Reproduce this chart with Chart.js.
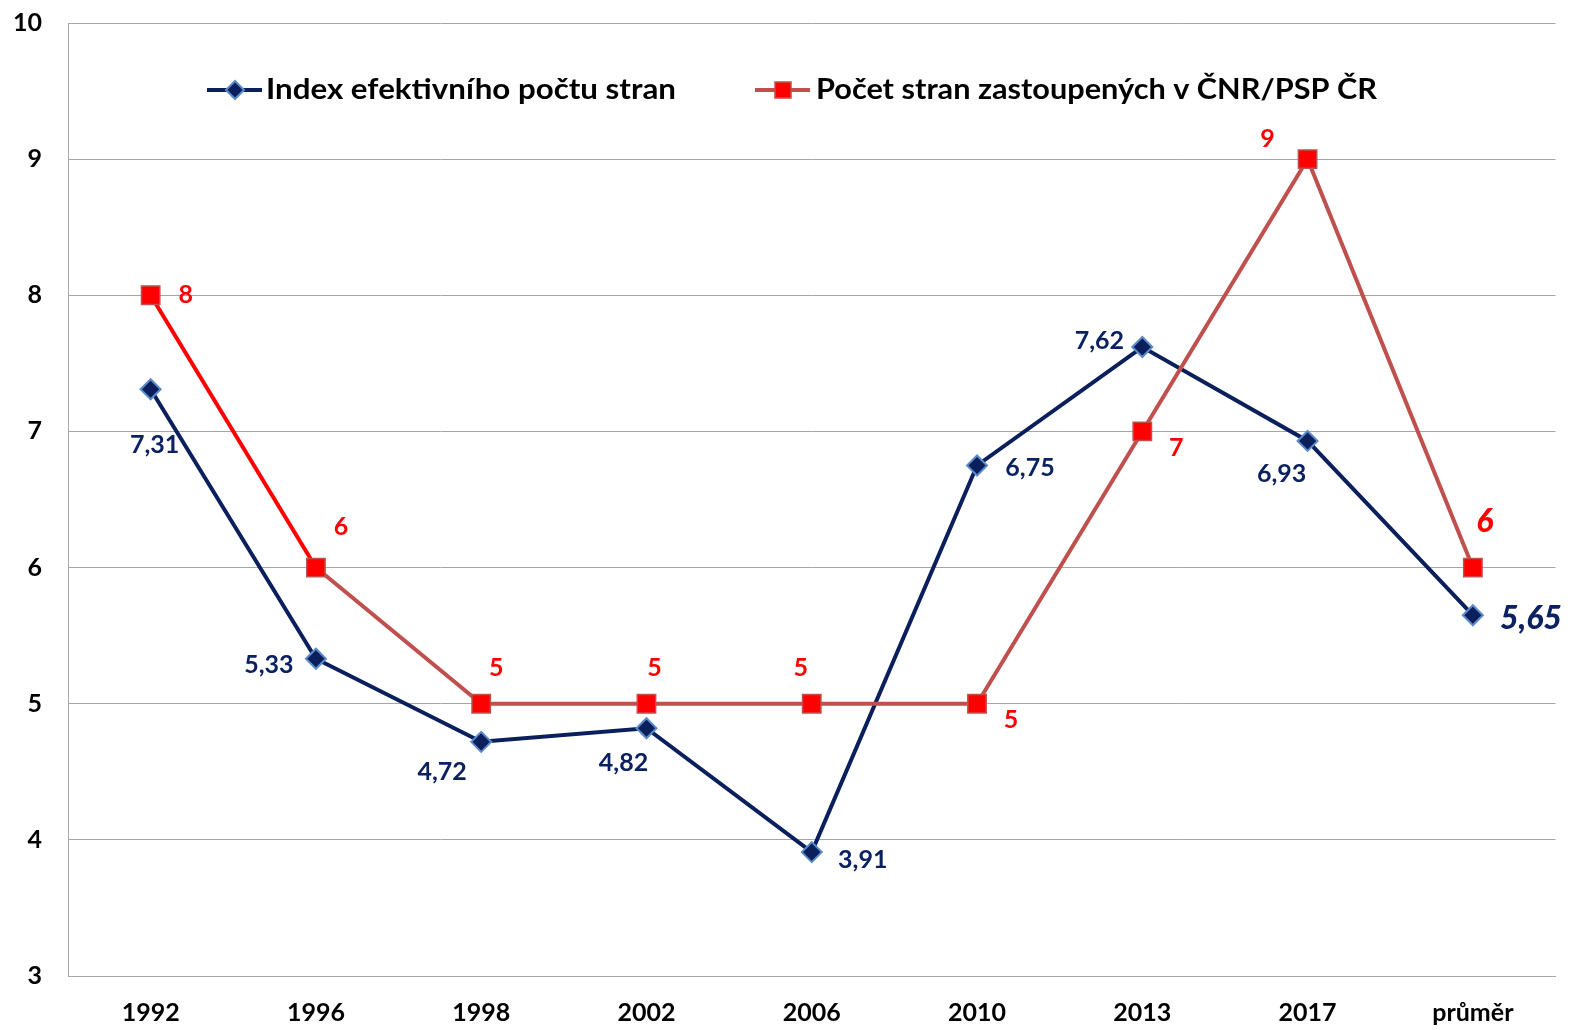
<!DOCTYPE html>
<html>
<head>
<meta charset="utf-8">
<script src="https://cdn.jsdelivr.net/npm/chart.js@4.4.0/dist/chart.umd.min.js"></script>
<style>
  html, body { margin: 0; padding: 0; background: #fff; }
  #wrap { width: 1570px; height: 1030px; }
</style>
</head>
<body>
<div id="wrap"><canvas id="c" width="1570" height="1030"></canvas></div>
<script>
const categories = ['1992', '1996', '1998', '2002', '2006', '2010', '2013', '2017', 'průměr'];
const effIndex = [7.31, 5.33, 4.72, 4.82, 3.91, 6.75, 7.62, 6.93, 5.65];
const partyCount = [8, 6, 5, 5, 5, 5, 7, 9, 6];
const seriesNames = ['Index efektivního počtu stran', 'Počet stran zastoupených v ČNR/PSP ČR'];
const yMin = 3, yMax = 10, yStep = 1;

const FONT = 'Lato, "Liberation Sans", sans-serif';
const NAVY = '#0B2161';
const NAVY_LINE = '#0A1F5C';
const DIAMOND_EDGE = '#5B8BC9';
const RED = '#FF0000';
const RED_LINE = '#C0504D';

const blueOffsets = [[4,56],[-47,6],[-39,30],[-23,35],[51,8],[53,2],[-43,-6],[-26,33],[58,3]];
const redOffsets = [[35,0],[25,-41],[15,-36],[8,-36],[-11,-36],[34,16],[34,17],[-40,-20],[12,-46]];

const labelPlugin = {
  id: 'labels',
  afterDatasetsDraw(chart) {
    const ctx = chart.ctx;
    ctx.save();
    ctx.textAlign = 'center';
    ctx.textBaseline = 'middle';
    chart.data.datasets.forEach((ds, di) => {
      const meta = chart.getDatasetMeta(di);
      const offs = ds.key === 'blue' ? blueOffsets : redOffsets;
      meta.data.forEach((pt, i) => {
        const last = i === meta.data.length - 1;
        ctx.font = (last ? 'italic 900 32px ' : 'bold 25px ') + FONT;
        ctx.fillStyle = ds.key === 'blue' ? NAVY : RED;
        const v = ds.data[i];
        const txt = ds.key === 'blue' ? v.toFixed(2).replace('.', ',') : String(v);
        ctx.fillText(txt, pt.x + offs[i][0], pt.y + offs[i][1]);
      });
    });
    ctx.restore();
  }
};

const legendPlugin = {
  id: 'customLegend',
  afterDraw(chart) {
    const ctx = chart.ctx;
    ctx.save();
    const y = 90;
    ctx.strokeStyle = NAVY_LINE; ctx.lineWidth = 4;
    ctx.beginPath(); ctx.moveTo(207, y); ctx.lineTo(262, y); ctx.stroke();
    ctx.fillStyle = NAVY_LINE; ctx.strokeStyle = DIAMOND_EDGE; ctx.lineWidth = 2;
    ctx.beginPath(); ctx.moveTo(235, y - 9); ctx.lineTo(244, y); ctx.lineTo(235, y + 9); ctx.lineTo(226, y); ctx.closePath();
    ctx.fill(); ctx.stroke();
    ctx.strokeStyle = RED_LINE; ctx.lineWidth = 4;
    ctx.beginPath(); ctx.moveTo(755, y); ctx.lineTo(810, y); ctx.stroke();
    ctx.fillStyle = RED; ctx.strokeStyle = RED_LINE; ctx.lineWidth = 1.5;
    ctx.fillRect(775, y - 8, 16, 16); ctx.strokeRect(775, y - 8, 16, 16);
    ctx.fillStyle = '#000';
    ctx.font = 'bold 28px ' + FONT;
    ctx.textBaseline = 'middle';
    ctx.textAlign = 'left';
    const fit = (t, x, w) => {
      const m = ctx.measureText(t).width;
      ctx.save();
      ctx.translate(x, y);
      ctx.scale(w / m, 1);
      ctx.fillText(t, 0, 0);
      ctx.restore();
    };
    fit(seriesNames[0], 266, 410);
    fit(seriesNames[1], 816, 561);
    ctx.restore();
  }
};

new Chart(document.getElementById('c'), {
  type: 'line',
  data: {
    labels: categories,
    datasets: [
      {
        key: 'blue',
        label: seriesNames[0],
        data: effIndex,
        borderColor: NAVY_LINE,
        borderWidth: 4,
        pointStyle: 'rectRot',
        pointRadius: 10,
        pointHoverRadius: 10,
        pointBackgroundColor: NAVY_LINE,
        pointBorderColor: DIAMOND_EDGE,
        pointBorderWidth: 2,
        tension: 0,
        order: 2
      },
      {
        key: 'red',
        label: seriesNames[1],
        data: partyCount,
        borderColor: RED_LINE,
        borderWidth: 4,
        segment: {
          borderColor: c => c.p0DataIndex === 0 ? RED : RED_LINE
        },
        pointStyle: 'rect',
        pointRadius: 13,
        pointHoverRadius: 13,
        pointBackgroundColor: RED,
        pointBorderColor: RED_LINE,
        pointBorderWidth: 1.5,
        tension: 0,
        order: 1
      }
    ]
  },
  options: {
    responsive: false,
    animation: false,
    events: [],
    layout: { padding: { top: 23, right: 10, left: 0, bottom: 0 } },
    plugins: { legend: { display: false }, tooltip: { enabled: false } },
    scales: {
      x: {
        offset: true,
        grid: { display: false, drawTicks: false },
        border: { display: true, color: '#A6A6A6', width: 1 },
        ticks: { color: '#000', font: { family: FONT, weight: 'bold', size: 25 }, padding: 22, maxRotation: 0 },
        afterFit(s) { s.height = 54; s.paddingLeft = 0; s.paddingRight = 0; }
      },
      y: {
        min: yMin, max: yMax,
        ticks: { stepSize: yStep, color: '#000', font: { family: FONT, weight: 'bold', size: 25 }, padding: 26 },
        grid: { color: '#A6A6A6', lineWidth: 1, drawTicks: false },
        border: { display: true, color: '#A6A6A6', width: 1 },
        afterFit(s) { s.width = 68; s.paddingTop = 0; s.paddingBottom = 0; }
      }
    }
  },
  plugins: [labelPlugin, legendPlugin]
});
</script>
</body>
</html>
